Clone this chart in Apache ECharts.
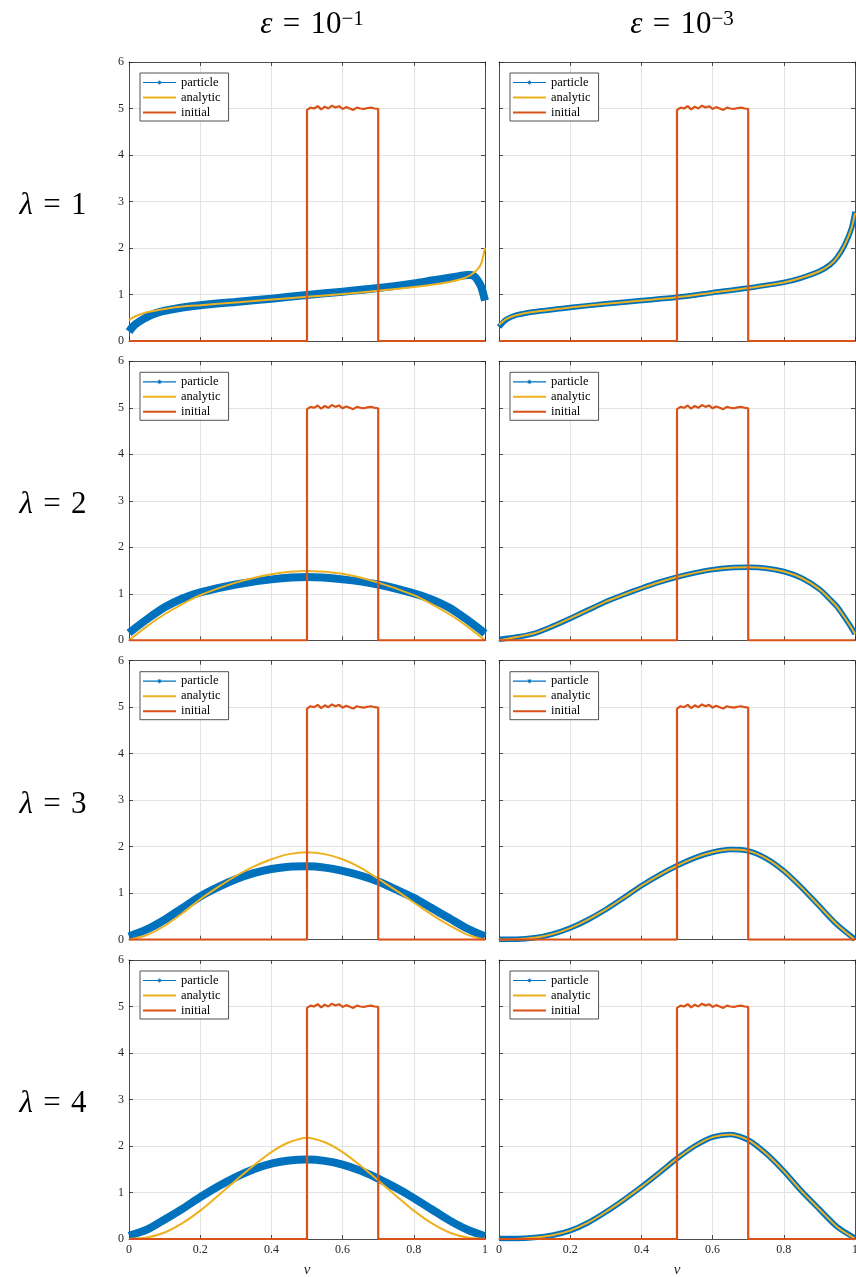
<!DOCTYPE html>
<html><head><meta charset="utf-8">
<script src="https://cdn.jsdelivr.net/npm/echarts@6/dist/echarts.min.js"></script>
<style>html,body{margin:0;padding:0;background:#fff}#c{width:856px;height:1277px}</style>
</head><body><div id="c"></div>
<script>
// ---------- data ----------
const xTicks = [0, 0.2, 0.4, 0.6, 0.8, 1];
const yTicks = [0, 1, 2, 3, 4, 5, 6];
const epsExponents = ['−1', '−3'];
const lambdaValues = ['1', '2', '3', '4'];
const seriesNames = ['particle', 'analytic', 'initial'];

const initialCurve = [[0,0],[0.5,0],[0.5,4.97],[0.51,5.02],[0.52,5.0],[0.53,5.05],[0.54,4.98],[0.55,5.04],[0.56,5.0],[0.57,5.06],[0.58,5.02],[0.59,5.05],[0.6,4.99],[0.61,5.03],[0.62,5.0],[0.63,4.97],[0.64,5.02],[0.65,5.0],[0.66,4.99],[0.67,5.01],[0.68,5.02],[0.69,5.0],[0.7,4.99],[0.7,0],[1,0]];

// lambda = 1
const particleL1E1 = [[0,0.2],[0.01,0.3],[0.02,0.37],[0.04,0.47],[0.06,0.55],[0.08,0.61],[0.1,0.65],[0.15,0.72],[0.2,0.77],[0.3,0.84],[0.4,0.91],[0.5,0.99],[0.6,1.06],[0.7,1.14],[0.8,1.24],[0.85,1.3],[0.9,1.36],[0.93,1.4],[0.95,1.42],[0.96,1.42],[0.97,1.39],[0.98,1.3],[0.99,1.15],[1,0.87]];
const analyticL1E1 = [[0,0.45],[0.01,0.5],[0.03,0.57],[0.05,0.62],[0.1,0.69],[0.15,0.74],[0.2,0.77],[0.3,0.83],[0.4,0.89],[0.5,0.95],[0.6,1.01],[0.7,1.08],[0.8,1.16],[0.9,1.27],[0.94,1.35],[0.96,1.42],[0.98,1.55],[0.99,1.68],[1,2.0]];
const particleL1E3 = [[0,0.3],[0.02,0.46],[0.05,0.56],[0.1,0.63],[0.2,0.72],[0.3,0.8],[0.4,0.87],[0.5,0.94],[0.6,1.04],[0.7,1.14],[0.8,1.26],[0.85,1.36],[0.9,1.5],[0.93,1.64],[0.95,1.8],[0.97,2.05],[0.99,2.42],[1,2.78]];
const analyticL1E3 = [[0,0.35],[0.02,0.47],[0.05,0.56],[0.1,0.63],[0.2,0.72],[0.3,0.8],[0.4,0.87],[0.5,0.94],[0.6,1.04],[0.7,1.14],[0.8,1.26],[0.85,1.36],[0.9,1.5],[0.93,1.64],[0.95,1.8],[0.97,2.05],[0.99,2.42],[1,2.75]];
// lambda = 2
const particleL2E1 = [[0,0.16],[0.05,0.45],[0.1,0.71],[0.15,0.9],[0.2,1.03],[0.3,1.2],[0.4,1.31],[0.5,1.36],[0.6,1.31],[0.7,1.2],[0.8,1.01],[0.85,0.88],[0.9,0.7],[0.95,0.44],[1,0.15]];
const analyticL2E1 = [[0,0],[0.05,0.3],[0.1,0.56],[0.15,0.78],[0.2,0.97],[0.3,1.24],[0.4,1.42],[0.5,1.49],[0.6,1.43],[0.7,1.24],[0.8,0.97],[0.85,0.78],[0.9,0.56],[0.95,0.3],[1,0]];
const particleL2E3 = [[0,0.02],[0.05,0.07],[0.1,0.15],[0.15,0.3],[0.2,0.47],[0.25,0.65],[0.3,0.83],[0.35,0.98],[0.4,1.12],[0.45,1.25],[0.5,1.36],[0.55,1.45],[0.6,1.52],[0.65,1.56],[0.7,1.57],[0.75,1.55],[0.8,1.48],[0.85,1.34],[0.9,1.1],[0.93,0.88],[0.95,0.72],[0.97,0.5],[0.99,0.27],[1,0.14]];
const analyticL2E3 = [[0,0],[0.05,0.07],[0.1,0.15],[0.15,0.3],[0.2,0.47],[0.25,0.65],[0.3,0.83],[0.35,0.98],[0.4,1.12],[0.45,1.25],[0.5,1.36],[0.55,1.45],[0.6,1.52],[0.65,1.56],[0.7,1.57],[0.75,1.55],[0.8,1.48],[0.85,1.34],[0.9,1.1],[0.93,0.88],[0.95,0.72],[0.97,0.5],[0.99,0.27],[1,0.14]];
// lambda = 3
const particleL3E1 = [[0,0.07],[0.05,0.22],[0.1,0.43],[0.15,0.68],[0.2,0.93],[0.25,1.13],[0.3,1.3],[0.35,1.43],[0.4,1.52],[0.45,1.57],[0.5,1.58],[0.55,1.55],[0.6,1.48],[0.65,1.38],[0.7,1.25],[0.75,1.08],[0.8,0.9],[0.85,0.68],[0.9,0.46],[0.95,0.24],[1,0.07]];
const analyticL3E1 = [[0,0],[0.05,0.1],[0.1,0.3],[0.15,0.57],[0.2,0.87],[0.25,1.13],[0.3,1.37],[0.35,1.57],[0.4,1.73],[0.45,1.84],[0.5,1.88],[0.55,1.84],[0.6,1.73],[0.65,1.55],[0.7,1.31],[0.75,1.06],[0.8,0.8],[0.85,0.54],[0.9,0.31],[0.95,0.11],[1,0]];
const particleL3E3 = [[0,0.01],[0.05,0.01],[0.1,0.04],[0.15,0.12],[0.2,0.25],[0.25,0.43],[0.3,0.65],[0.35,0.9],[0.4,1.16],[0.45,1.39],[0.5,1.59],[0.55,1.76],[0.6,1.88],[0.65,1.94],[0.7,1.91],[0.75,1.75],[0.8,1.48],[0.85,1.12],[0.9,0.72],[0.95,0.32],[1,0.01]];
const analyticL3E3 = [[0,0],[0.05,0.01],[0.1,0.04],[0.15,0.12],[0.2,0.25],[0.25,0.43],[0.3,0.65],[0.35,0.9],[0.4,1.16],[0.45,1.39],[0.5,1.59],[0.55,1.76],[0.6,1.88],[0.65,1.94],[0.7,1.91],[0.75,1.75],[0.8,1.48],[0.85,1.12],[0.9,0.72],[0.95,0.32],[1,0]];
// lambda = 4
const particleL4E1 = [[0,0.07],[0.05,0.2],[0.1,0.42],[0.15,0.65],[0.2,0.9],[0.25,1.13],[0.3,1.33],[0.35,1.5],[0.4,1.62],[0.45,1.69],[0.5,1.71],[0.55,1.68],[0.6,1.6],[0.65,1.47],[0.7,1.3],[0.75,1.1],[0.8,0.88],[0.85,0.64],[0.9,0.4],[0.95,0.2],[1,0.06]];
const analyticL4E1 = [[0,0],[0.05,0.03],[0.1,0.14],[0.15,0.34],[0.2,0.61],[0.25,0.93],[0.3,1.26],[0.35,1.58],[0.4,1.87],[0.45,2.08],[0.5,2.18],[0.55,2.08],[0.6,1.87],[0.65,1.58],[0.7,1.26],[0.75,0.93],[0.8,0.61],[0.85,0.34],[0.9,0.14],[0.95,0.03],[1,0]];
const particleL4E3 = [[0,0.01],[0.05,0.01],[0.1,0.03],[0.15,0.08],[0.2,0.18],[0.25,0.35],[0.3,0.58],[0.35,0.84],[0.4,1.12],[0.45,1.42],[0.5,1.73],[0.55,2.0],[0.6,2.19],[0.65,2.25],[0.7,2.13],[0.75,1.84],[0.8,1.46],[0.85,1.03],[0.9,0.64],[0.95,0.26],[1,0.02]];
const analyticL4E3 = [[0,0],[0.05,0.0],[0.1,0.03],[0.15,0.08],[0.2,0.18],[0.25,0.35],[0.3,0.58],[0.35,0.84],[0.4,1.12],[0.45,1.42],[0.5,1.73],[0.55,2.0],[0.6,2.19],[0.65,2.25],[0.7,2.13],[0.75,1.84],[0.8,1.46],[0.85,1.03],[0.9,0.64],[0.95,0.26],[1,0.01]];

const particleData = [[particleL1E1, particleL1E3],[particleL2E1, particleL2E3],[particleL3E1, particleL3E3],[particleL4E1, particleL4E3]];
const analyticData = [[analyticL1E1, analyticL1E3],[analyticL2E1, analyticL2E3],[analyticL3E1, analyticL3E3],[analyticL4E1, analyticL4E3]];

// ---------- layout & style ----------
const FONT = 'Liberation Serif';
const AX = '#262626';
const BLUE = '#0072BD', ORANGE = '#EDB120', RED = '#D95319';
const colLeft = [129, 499], rowTop = [62, 361.3, 660.7, 960], W = 356, H = 279;
const P_ICON = 'path://M0,2.4h33v1.2h-33z M16.5,0 L16.96,1.89 L18.62,0.88 L17.61,2.54 L19.5,3 L17.61,3.46 L18.62,5.12 L16.96,4.11 L16.5,6 L16.04,4.11 L14.38,5.12 L15.39,3.46 L13.5,3 L15.39,2.54 L14.38,0.88 L16.04,1.89 Z';
const L_ICON = 'path://M0,0h33v2h-33z';
const SP = '\u2004';

const grids = [], xAxes = [], yAxes = [], series = [], legends = [], titles = [];
for (let r = 0; r < 4; r++) {
  for (let c = 0; c < 2; c++) {
    const k = r * 2 + c;
    const bottom = r === 3;
    grids.push({ left: colLeft[c], top: rowTop[r], width: W, height: H, containLabel: false, outerBoundsMode: 'none' });
    const lineS = { show: true, onZero: false, lineStyle: { color: AX, width: 0.8 } };
    const tickS = { show: true, inside: true, length: 4, lineStyle: { color: AX, width: 0.8 } };
    xAxes.push({
      gridIndex: k, type: 'value', min: xTicks[0], max: xTicks[xTicks.length - 1], interval: xTicks[1] - xTicks[0],
      position: 'bottom', axisLine: lineS, axisTick: tickS,
      axisLabel: { show: bottom, color: AX, fontFamily: FONT, fontSize: 12, margin: 5, hideOverlap: false },
      splitLine: { show: true, lineStyle: { color: '#e3e3e3', width: 1 } },
      name: bottom ? 'v' : '', nameLocation: 'middle', nameGap: 24,
      nameTextStyle: { fontFamily: FONT, fontStyle: 'italic', fontSize: 15, color: AX }
    });
    xAxes.push({
      gridIndex: k, type: 'value', min: xTicks[0], max: xTicks[xTicks.length - 1], interval: xTicks[1] - xTicks[0],
      position: 'top', axisLine: lineS, axisTick: tickS, axisLabel: { show: false }, splitLine: { show: false }
    });
    yAxes.push({
      gridIndex: k, type: 'value', min: yTicks[0], max: yTicks[yTicks.length - 1], interval: 1,
      position: 'left', axisLine: lineS, axisTick: tickS,
      axisLabel: { show: c === 0, color: AX, fontFamily: FONT, fontSize: 12, margin: 5 },
      splitLine: { show: true, lineStyle: { color: '#e3e3e3', width: 1 } }
    });
    yAxes.push({
      gridIndex: k, type: 'value', min: yTicks[0], max: yTicks[yTicks.length - 1], interval: 1,
      position: 'right', axisLine: lineS, axisTick: tickS, axisLabel: { show: false }, splitLine: { show: false }
    });
    const xi = 2 * k, yi = 2 * k;
    series.push({
      name: seriesNames[0], type: 'line', xAxisIndex: xi, yAxisIndex: yi, data: particleData[r][c],
      smooth: 0.25, showSymbol: false, symbol: 'circle', color: BLUE,
      lineStyle: { color: BLUE, width: c === 0 ? 8 : 5.5, join: 'round' }, silent: true, z: 2
    });
    series.push({
      name: seriesNames[1], type: 'line', xAxisIndex: xi, yAxisIndex: yi, data: analyticData[r][c],
      smooth: 0.25, showSymbol: false, symbol: 'none', color: ORANGE,
      lineStyle: { color: ORANGE, width: 2 }, silent: true, z: 3
    });
    series.push({
      name: seriesNames[2], type: 'line', xAxisIndex: xi, yAxisIndex: yi, data: initialCurve,
      showSymbol: false, symbol: 'none', color: RED,
      lineStyle: { color: RED, width: 2.2 }, silent: true, z: 4
    });
    legends.push({
      orient: 'vertical', left: colLeft[c] + 11, top: rowTop[r] + 11,
      itemWidth: 33, itemHeight: 12, itemGap: 2, padding: [3, 8, 2, 3],
      backgroundColor: '#fff', borderColor: AX, borderWidth: 0.8, borderRadius: 0,
      selectedMode: false, z: 10,
      textStyle: { fontFamily: FONT, fontSize: 12.5, color: '#000' },
      data: [
        { name: seriesNames[0], icon: P_ICON },
        { name: seriesNames[1], icon: L_ICON },
        { name: seriesNames[2], icon: L_ICON }
      ]
    });
  }
}
for (let c = 0; c < 2; c++) {
  titles.push({
    text: '{i|ε}' + SP + '=' + SP + '10{s|' + epsExponents[c] + '}',
    left: colLeft[c] + W / 2, top: 4, textAlign: 'center',
    textStyle: {
      fontFamily: FONT, fontSize: 31, fontWeight: 'normal', color: '#000',
      rich: {
        i: { fontFamily: FONT, fontSize: 31, fontStyle: 'italic', color: '#000' },
        s: { fontFamily: FONT, fontSize: 21, verticalAlign: 'top', color: '#000' }
      }
    }
  });
}
for (let r = 0; r < 4; r++) {
  titles.push({
    text: '{i|λ}' + SP + '=' + SP + lambdaValues[r],
    left: 48, top: rowTop[r] + H / 2 - 16, textAlign: 'center',
    textStyle: {
      fontFamily: FONT, fontSize: 31, fontWeight: 'normal', color: '#000',
      rich: { i: { fontFamily: FONT, fontSize: 31, fontStyle: 'italic', color: '#000' } }
    }
  });
}

const chart = echarts.init(document.getElementById('c'), null, { renderer: 'canvas' });
chart.setOption({
  animation: false,
  backgroundColor: '#fff',
  title: titles,
  grid: grids, xAxis: xAxes, yAxis: yAxes, legend: legends, series: series
});
</script></body></html>
